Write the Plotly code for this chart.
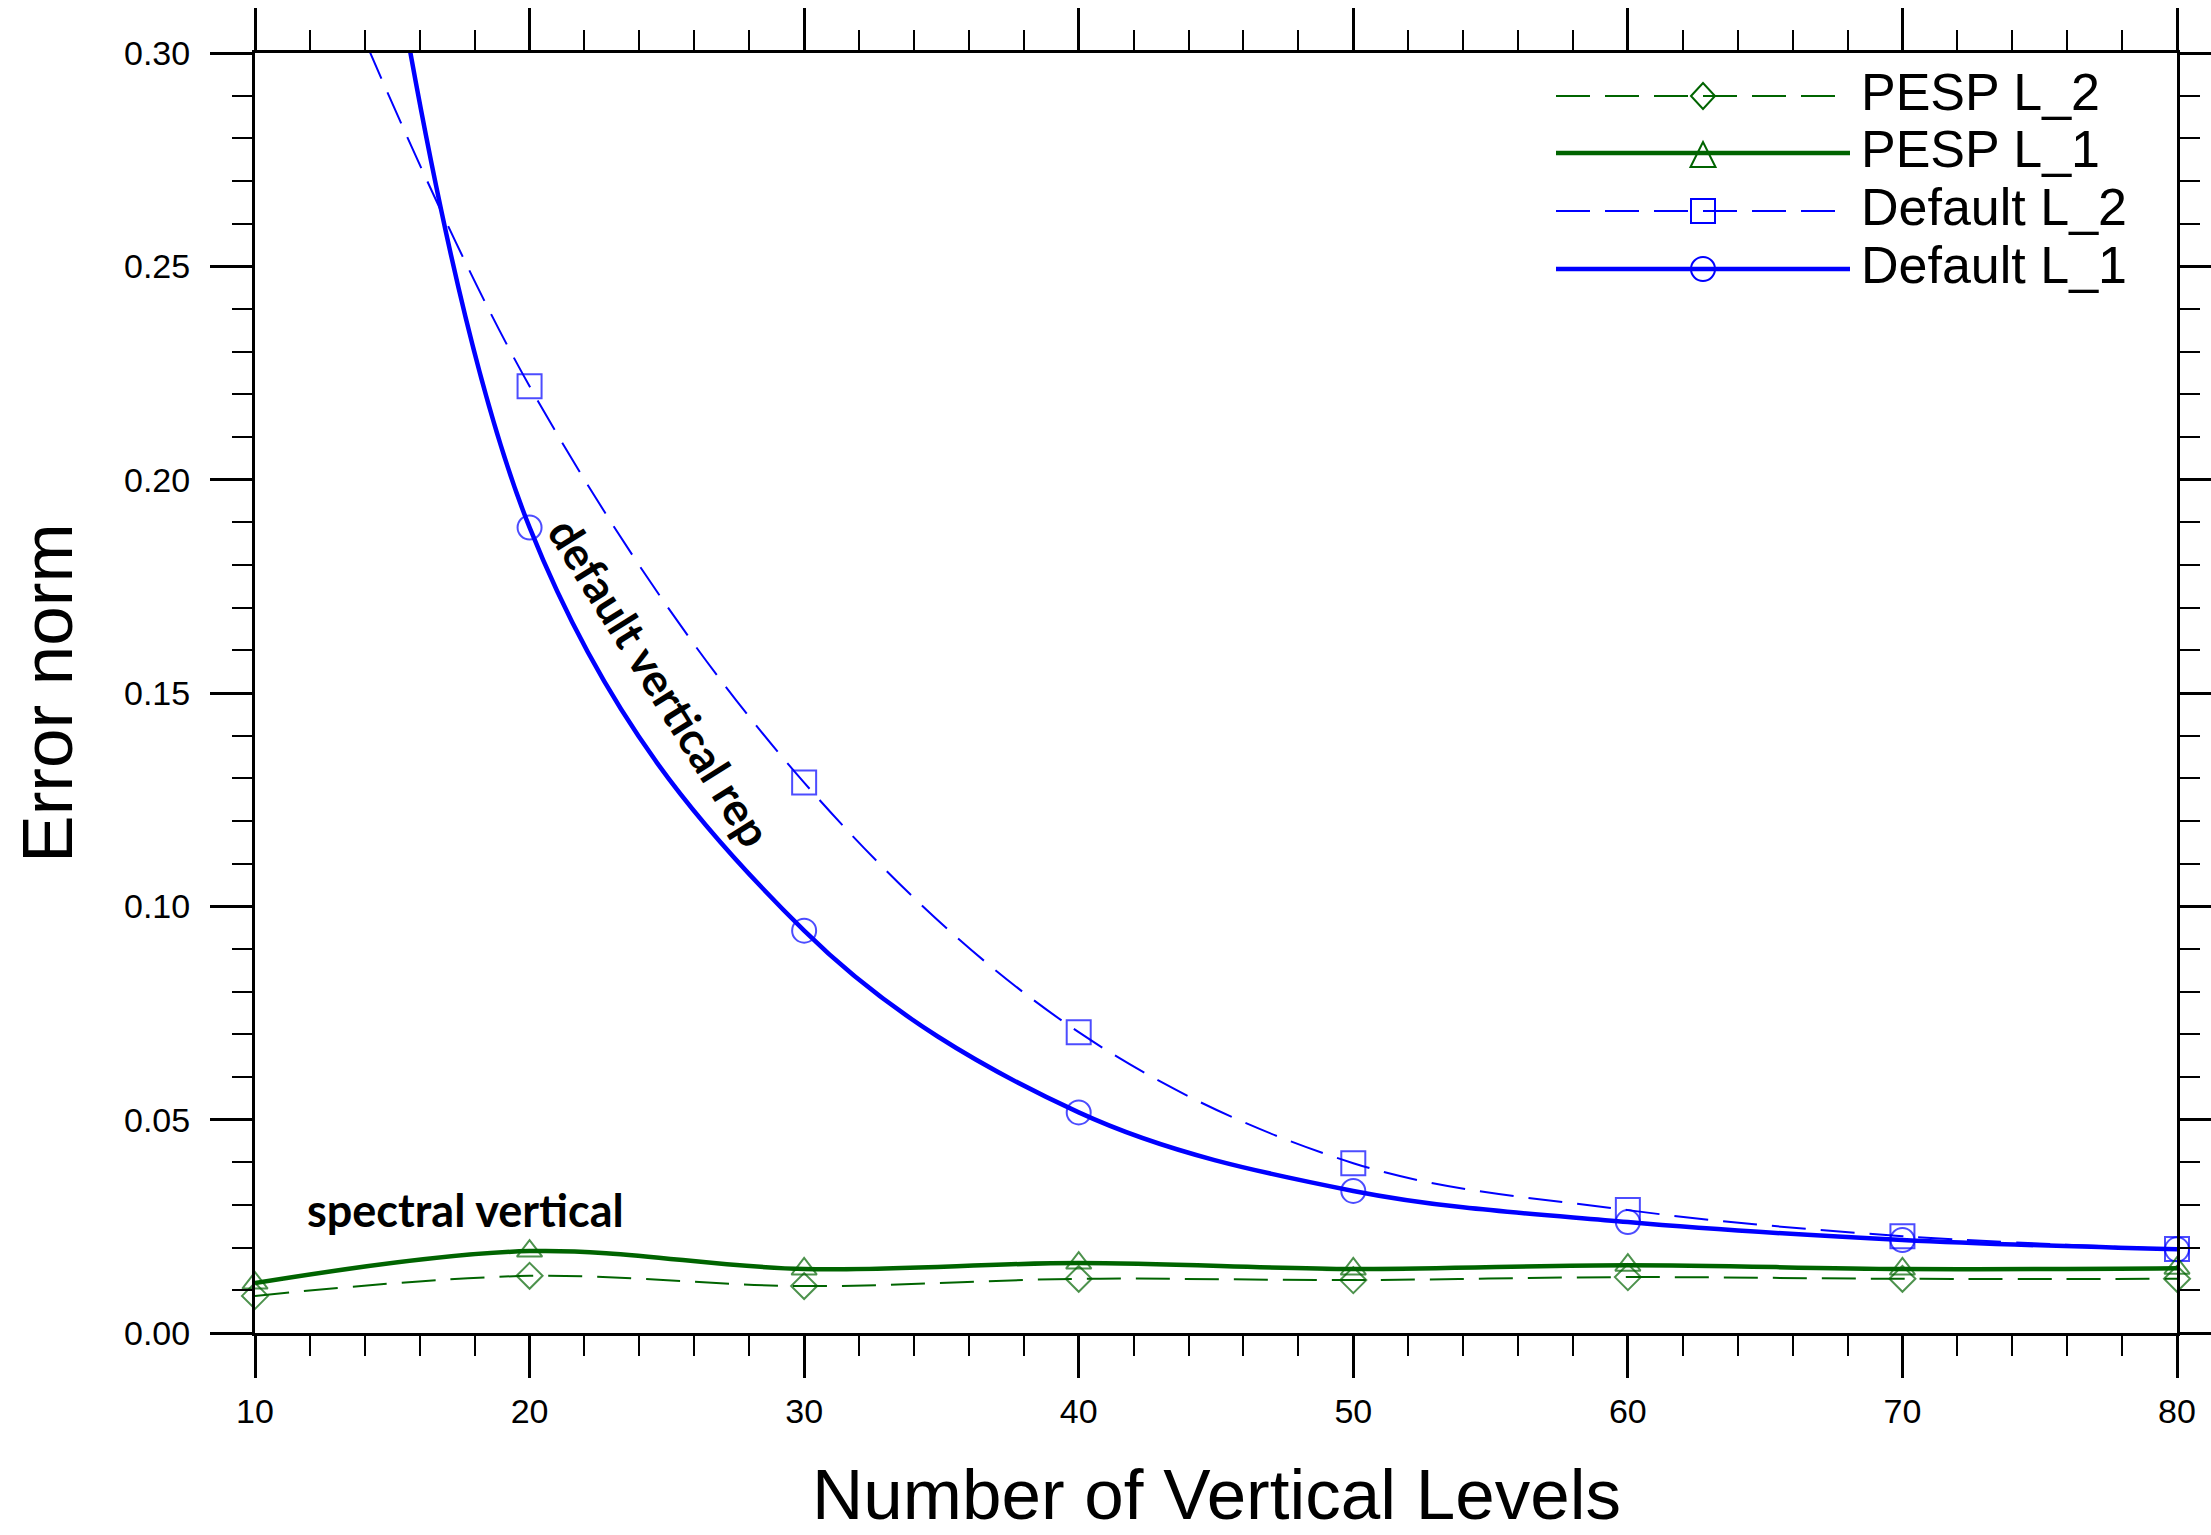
import plotly.graph_objects as go

# ---------------- data ----------------
levels = [10, 20, 30, 40, 50, 60, 70, 80]
pesp_l2 = [0.0087, 0.0134, 0.0110, 0.0127, 0.0124, 0.0131, 0.0127, 0.0127]
pesp_l1 = [0.0117, 0.0192, 0.0150, 0.0164, 0.0150, 0.0159, 0.0150, 0.0152]
default_l2 = [0.365, 0.2219, 0.1290, 0.0705, 0.0398, 0.0288, 0.0227, 0.0197]
default_l1 = [0.58, 0.1888, 0.0943, 0.0517, 0.0333, 0.0260, 0.0218, 0.0196]

x_tick_vals = [10, 20, 30, 40, 50, 60, 70, 80]
y_tick_vals = [0.0, 0.05, 0.10, 0.15, 0.20, 0.25, 0.30]
y_tick_text = ["0.00", "0.05", "0.10", "0.15", "0.20", "0.25", "0.30"]

series_names = ["PESP L_2", "PESP L_1", "Default L_2", "Default L_1"]
x_title = "Number of Vertical Levels"
y_title = "Error norm"

# ---------------- styles ----------------
W, H = 2211, 1535
ML, MR, MT, MB = 255, 34, 53, 202
XMIN, XMAX = 10, 80
YMIN, YMAX = 0.0, 0.30
GREEN = "#006400"
BLUE = "#0000FF"
DASH = "34px,15px"
FONT = "Liberation Sans, Arial, sans-serif"
ANN_FONT = "Lato, Open Sans, sans-serif"

styles = {
    "PESP L_2": dict(y=pesp_l2, color=GREEN, width=2, dash=DASH, symbol="diamond-open", size=20),
    "PESP L_1": dict(y=pesp_l1, color=GREEN, width=4.5, dash="solid", symbol="triangle-up-open", size=22),
    "Default L_2": dict(y=default_l2, color=BLUE, width=2, dash=DASH, symbol="square-open", size=24),
    "Default L_1": dict(y=default_l1, color=BLUE, width=4.5, dash="solid", symbol="circle-open", size=24),
}

fig = go.Figure()

for name in ["Default L_1", "Default L_2", "PESP L_1", "PESP L_2"]:
    s = styles[name]
    sizes = [s["size"] if YMIN <= v <= YMAX else 0 for v in s["y"]]
    fig.add_trace(go.Scatter(
        x=levels, y=s["y"], name=name, mode="lines+markers",
        line=dict(color=s["color"], width=s["width"], dash=s["dash"], shape="spline", smoothing=1),
        marker=dict(symbol=s["symbol"], size=sizes, color=s["color"], line=dict(color=s["color"], width=2)),
        cliponaxis=False, showlegend=False,
    ))

# ---------------- custom legend (long line keys) ----------------
plot_w = W - ML - MR
plot_h = H - MT - MB


def px_x(p):
    return (p - ML) / plot_w


def px_y(p):
    return (H - MB - p) / plot_h


leg_x0, leg_x1, leg_xm, leg_tx = px_x(1556), px_x(1850), px_x(1703), px_x(1859)
leg_rows = [px_y(96), px_y(153), px_y(211), px_y(269)]

marker_shapes = {
    "diamond-open": dict(type="path", path="M-12,0L0,13L12,0L0,-13Z"),
    "triangle-up-open": dict(type="path", path="M-12.5,-14L12.5,-14L0,11Z"),
    "square-open": dict(type="rect", x0=-12, x1=12, y0=-12, y1=12),
    "circle-open": dict(type="circle", x0=-12, x1=12, y0=-12, y1=12),
}

for name, yr in zip(series_names, leg_rows):
    s = styles[name]
    fig.add_shape(type="line", xref="paper", yref="paper", x0=leg_x0, x1=leg_x1, y0=yr, y1=yr,
                  line=dict(color=s["color"], width=s["width"], dash=s["dash"]), layer="above")
    ms = dict(marker_shapes[s["symbol"]])
    fig.add_shape(**ms, xref="paper", yref="paper", xsizemode="pixel", ysizemode="pixel",
                  xanchor=leg_xm, yanchor=yr, line=dict(color=s["color"], width=2),
                  fillcolor="rgba(0,0,0,0)", layer="above")
    fig.add_annotation(x=leg_tx, y=yr, xref="paper", yref="paper", text=name, showarrow=False,
                       xanchor="left", yanchor="middle", yshift=4,
                       font=dict(family=FONT, size=52, color="black"))

# ---------------- text annotations ----------------
fig.add_annotation(x=24.75, y=0.1526, xref="x", yref="y", text="default vertical rep", showarrow=False,
                   textangle=58, font=dict(family=ANN_FONT, size=45, color="black", weight="bold"))
fig.add_annotation(x=17.65, y=0.0288, xref="x", yref="y", text="spectral vertical", showarrow=False,
                   font=dict(family=ANN_FONT, size=45, color="black", weight="bold"))

# x-axis title as an annotation, sitting on the bottom edge of the canvas
fig.add_annotation(x=0.5, y=px_y(H), xref="paper", yref="paper", text=x_title, showarrow=False,
                   xanchor="center", yanchor="bottom", borderpad=0,
                   font=dict(family=FONT, size=71, color="black"))

axis_common = dict(
    showgrid=False, zeroline=False, showline=True, linecolor="black", linewidth=3,
    mirror="ticks", ticks="outside", ticklen=42, tickwidth=3, tickcolor="black",
    tickfont=dict(family=FONT, size=34, color="black"), automargin=False,
)

fig.update_layout(
    width=W, height=H,
    margin=dict(l=ML, r=MR, t=MT, b=MB, pad=0, autoexpand=False),
    paper_bgcolor="white", plot_bgcolor="white",
    showlegend=False,
    xaxis=dict(**axis_common, range=[XMIN, XMAX], tickvals=x_tick_vals,
               ticklabelstandoff=4,
               minor=dict(dtick=2, tick0=10, ticks="outside", ticklen=20, tickwidth=2, tickcolor="black")),
    yaxis=dict(**axis_common, range=[YMIN, YMAX], tickvals=y_tick_vals, ticktext=y_tick_text,
               ticklabelstandoff=13,
               minor=dict(dtick=0.01, tick0=0, ticks="outside", ticklen=20, tickwidth=2, tickcolor="black"),
               title=dict(text=y_title, font=dict(family=FONT, size=71, color="black"),
                          standoff=29)),
)

fig.write_html("out.html")
